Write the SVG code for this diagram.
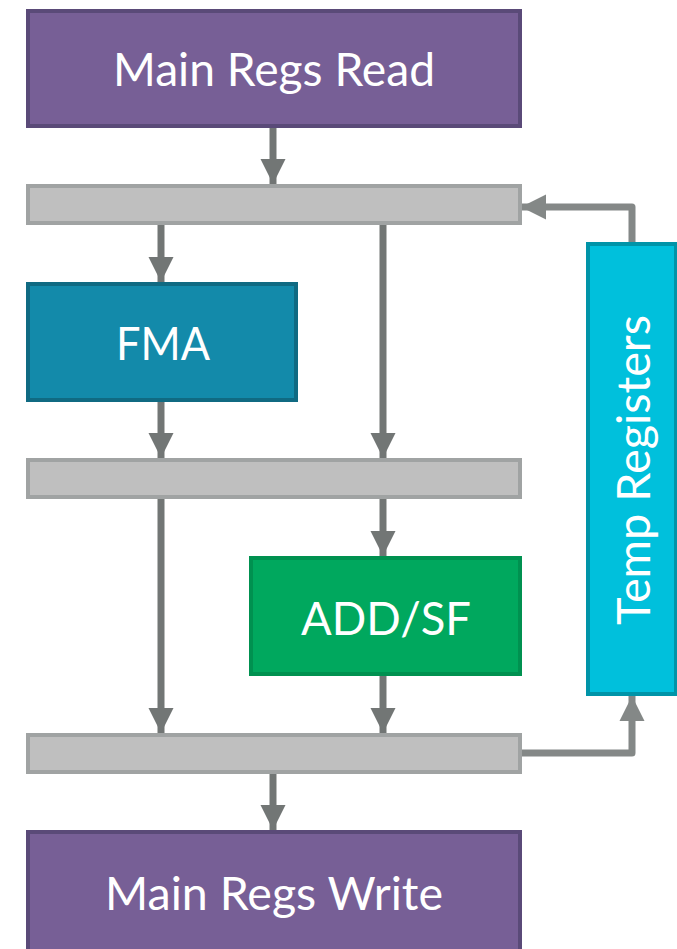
<svg xmlns="http://www.w3.org/2000/svg" width="677" height="949" viewBox="0 0 677 949">
<style>
.lbl{font-family:Lato,"Open Sans","Liberation Sans",sans-serif;fill:#fff;text-anchor:middle;font-size:46px}
.bar{fill:#bfbfbf;stroke:#a0a3a3;stroke-width:4}
.conn{stroke:#727675;stroke-width:7;fill:none}
.fb{stroke:#848887;stroke-width:7;fill:none;stroke-linejoin:round}
</style>
<defs>
<marker id="ah" viewBox="0 0 10 10" refX="10" refY="5" markerWidth="3.6" markerHeight="3.6" orient="auto" markerUnits="strokeWidth">
<path d="M0,0 L10,5 L0,10 z" fill="#727675"/>
</marker>
<marker id="ah2" viewBox="0 0 10 10" refX="10" refY="5" markerWidth="3.6" markerHeight="3.6" orient="auto" markerUnits="strokeWidth">
<path d="M0,0 L10,5 L0,10 z" fill="#848887"/>
</marker>
</defs>
<g id="connectors">
<path class="conn" d="M273,127 V184" marker-end="url(#ah)"/>
<path class="conn" d="M161,225 V282" marker-end="url(#ah)"/>
<path class="conn" d="M383,225 V458" marker-end="url(#ah)"/>
<path class="conn" d="M161,402 V458" marker-end="url(#ah)"/>
<path class="conn" d="M161,499 V733" marker-end="url(#ah)"/>
<path class="conn" d="M383,499 V556" marker-end="url(#ah)"/>
<path class="conn" d="M383,676 V733" marker-end="url(#ah)"/>
<path class="conn" d="M273,774 V830" marker-end="url(#ah)"/>
<path class="fb" d="M521,753 H632 V696" marker-end="url(#ah2)"/>
<path class="fb" d="M632,242 V207 H521" marker-end="url(#ah2)"/>
</g>
<g id="main-regs-read">
<rect x="28" y="11" width="492" height="115" fill="#775f96" stroke="#5a4a78" stroke-width="4"/>
<text class="lbl" x="274" y="86" textLength="322" lengthAdjust="spacingAndGlyphs">Main Regs Read</text>
</g>
<g id="bar1"><rect class="bar" x="28" y="186" width="492" height="37"/></g>
<g id="fma">
<rect x="28" y="284" width="268" height="116" fill="#138aaa" stroke="#106a82" stroke-width="4"/>
<text class="lbl" x="163" y="360" textLength="94" lengthAdjust="spacingAndGlyphs">FMA</text>
</g>
<g id="bar2"><rect class="bar" x="28" y="460" width="492" height="37"/></g>
<g id="add-sf">
<rect x="251" y="558" width="269" height="116" fill="#00a85e" stroke="#009150" stroke-width="4"/>
<text class="lbl" x="386" y="635" textLength="170" lengthAdjust="spacingAndGlyphs">ADD/SF</text>
</g>
<g id="bar3"><rect class="bar" x="28" y="735" width="492" height="37"/></g>
<g id="main-regs-write">
<rect x="28" y="832" width="492" height="125" fill="#775f96" stroke="#5a4a78" stroke-width="4"/>
<text class="lbl" x="274" y="910" textLength="338" lengthAdjust="spacingAndGlyphs">Main Regs Write</text>
</g>
<g id="temp-registers">
<rect x="588" y="244" width="88" height="450" fill="#00c0dc" stroke="#0094a8" stroke-width="4"/>
<text class="lbl" transform="translate(650,470) rotate(-90)" x="0" y="0" textLength="310" lengthAdjust="spacingAndGlyphs">Temp Registers</text>
</g>
</svg>
